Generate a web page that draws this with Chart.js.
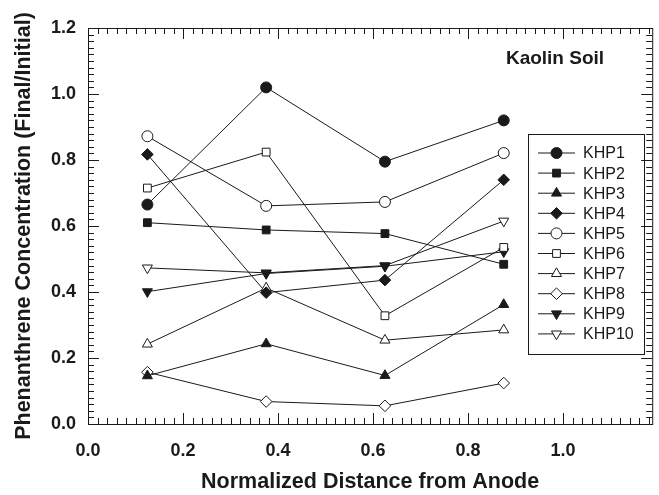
<!DOCTYPE html>
<html>
<head>
<meta charset="utf-8">
<script src="https://cdn.jsdelivr.net/npm/chart.js@4.4.0/dist/chart.umd.min.js"></script>
<style>
html, body { margin: 0; padding: 0; background: #fff; }
#wrap { width: 659px; height: 495px; }
</style>
</head>
<body>
<div id="wrap"><canvas id="chart"></canvas></div>
<script>
// normalized distance of each sampling section
const distances = [0.125, 0.375, 0.625, 0.875];

const khp1 = [0.665, 1.02, 0.795, 0.92];
const khp2 = [0.610, 0.588, 0.577, 0.484];
const khp3 = [0.146, 0.243, 0.147, 0.362];
const khp4 = [0.817, 0.398, 0.436, 0.740];
const khp5 = [0.872, 0.661, 0.673, 0.821];
const khp6 = [0.715, 0.824, 0.328, 0.535];
const khp7 = [0.242, 0.412, 0.254, 0.285];
const khp8 = [0.157, 0.068, 0.055, 0.124];
const khp9 = [0.401, 0.456, 0.478, 0.522];
const khp10 = [0.473, 0.458, 0.480, 0.615];

const seriesNames = ['KHP1', 'KHP2', 'KHP3', 'KHP4', 'KHP5', 'KHP6', 'KHP7', 'KHP8', 'KHP9', 'KHP10'];
const seriesValues = [khp1, khp2, khp3, khp4, khp5, khp6, khp7, khp8, khp9, khp10];

const xTickLabels = ['0.0', '0.2', '0.4', '0.6', '0.8', '1.0'];
const yTickLabels = ['0.0', '0.2', '0.4', '0.6', '0.8', '1.0', '1.2'];

// marker look for each series
const markers = [
	{ style: 'circle', fill: true, rot: 0, r: 5.5 },
	{ style: 'rect', fill: true, rot: 0, r: 5.5 },
	{ style: 'triangle', fill: true, rot: 0, r: 5.8 },
	{ style: 'rectRot', fill: true, rot: 0, r: 5.8 },
	{ style: 'circle', fill: false, rot: 0, r: 5.5 },
	{ style: 'rect', fill: false, rot: 0, r: 5.5 },
	{ style: 'triangle', fill: false, rot: 0, r: 5.8 },
	{ style: 'rectRot', fill: false, rot: 0, r: 5.8 },
	{ style: 'triangle', fill: true, rot: 180, r: 5.8 },
	{ style: 'triangle', fill: false, rot: 180, r: 5.8 },
];

const ink = '#1a1a1a';
const fontFam = '"Liberation Sans", Arial, sans-serif';

const datasets = seriesNames.map((name, i) => ({
	label: name,
	data: distances.map((d, j) => ({ x: d, y: seriesValues[i][j] })),
	borderColor: ink,
	borderWidth: 1,
	pointStyle: markers[i].style,
	pointRotation: markers[i].rot,
	pointRadius: markers[i].r,
	pointBorderWidth: 1,
	pointBackgroundColor: markers[i].fill ? ink : '#fff',
	pointBorderColor: ink,
	fill: false,
	tension: 0,
}));

// box with inward ticks on all four sides
const frame = {
	id: 'frame',
	afterDraw(chart) {
		const { ctx, chartArea: a, scales: { x, y } } = chart;
		ctx.save();
		ctx.strokeStyle = ink;
		ctx.lineWidth = 1;
		ctx.strokeRect(a.left + 0.5, a.top + 0.5, a.right - a.left, a.bottom - a.top);
		ctx.beginPath();
		for (let i = 0; i * 0.02 <= x.max + 1e-9; i++) {
			const px = Math.round(x.getPixelForValue(i * 0.02)) + 0.5;
			const len = i % 10 === 0 ? 11 : 6;
			ctx.moveTo(px, a.bottom); ctx.lineTo(px, a.bottom - len);
			ctx.moveTo(px, a.top); ctx.lineTo(px, a.top + len);
		}
		for (let i = 0; i * 0.02 <= y.max + 1e-9; i++) {
			const py = Math.round(y.getPixelForValue(i * 0.02)) + 0.5;
			const len = i % 10 === 0 ? 11 : 6;
			ctx.moveTo(a.left, py); ctx.lineTo(a.left + len, py);
			ctx.moveTo(a.right, py); ctx.lineTo(a.right - len, py);
		}
		ctx.stroke();

		ctx.fillStyle = ink;
		ctx.font = 'bold 19px ' + fontFam;
		ctx.textAlign = 'center';
		ctx.textBaseline = 'middle';
		ctx.fillText('Kaolin Soil', 555, 59);
		ctx.restore();
	}
};

// legend box in the plot
const boxLegend = {
	id: 'boxLegend',
	afterDraw(chart) {
		const ctx = chart.ctx;
		ctx.save();
		ctx.strokeStyle = ink;
		ctx.lineWidth = 1;
		ctx.strokeRect(528.5, 134.5, 116, 220);
		chart.data.datasets.forEach((ds, i) => {
			const yy = 153 + i * 20.1;
			ctx.strokeStyle = ink;
			ctx.beginPath();
			ctx.moveTo(538, yy); ctx.lineTo(575, yy);
			ctx.stroke();
			ctx.fillStyle = ds.pointBackgroundColor;
			Chart.helpers.drawPoint(ctx, {
				pointStyle: ds.pointStyle,
				rotation: ds.pointRotation,
				radius: ds.pointRadius,
				borderWidth: 1
			}, 556.5, yy);
			ctx.fillStyle = ink;
			ctx.font = '16px ' + fontFam;
			ctx.textAlign = 'left';
			ctx.textBaseline = 'middle';
			ctx.fillText(ds.label, 583, yy + 1);
		});
		ctx.restore();
	}
};

new Chart(document.getElementById('chart'), {
	type: 'line',
	data: { datasets: datasets },
	options: {
		responsive: true,
		maintainAspectRatio: false,
		animation: false,
		layout: { padding: { top: 28, right: 6, left: 0, bottom: 0 } },
		plugins: {
			legend: { display: false },
			tooltip: { enabled: false },
		},
		scales: {
			x: {
				type: 'linear',
				min: 0,
				max: 1.1875,
				grid: { display: false, drawTicks: false },
				border: { display: false },
				ticks: {
					stepSize: 0.2,
					includeBounds: false,
					padding: 16,
					color: ink,
					font: { family: fontFam, size: 18, weight: 'bold' },
					callback: (v) => xTickLabels.find(t => Math.abs(parseFloat(t) - v) < 1e-6) || '',
				},
				title: {
					display: true,
					text: 'Normalized Distance from Anode',
					color: ink,
					font: { family: fontFam, size: 21.5, weight: 'bold' },
					padding: { top: 0, bottom: 0 },
				},
				afterFit: (s) => { s.height = 71; },
			},
			y: {
				min: 0,
				max: 1.2,
				grid: { display: false, drawTicks: false },
				border: { display: false },
				ticks: {
					stepSize: 0.2,
					padding: 12,
					color: ink,
					font: { family: fontFam, size: 18, weight: 'bold' },
					callback: (v) => yTickLabels.find(t => Math.abs(parseFloat(t) - v) < 1e-6) || '',
				},
				title: {
					display: true,
					text: 'Phenanthrene Concentration (Final/Initial)',
					color: ink,
					font: { family: fontFam, size: 21.5, weight: 'bold' },
					padding: { top: 11, bottom: 0 },
				},
				afterFit: (s) => { s.width = 88; },
			},
		},
	},
	plugins: [frame, boxLegend],
});
</script>
</body>
</html>
